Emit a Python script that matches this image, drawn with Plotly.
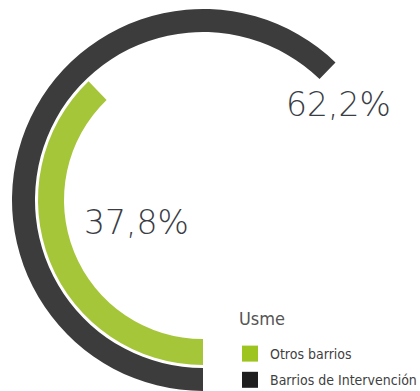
import plotly.graph_objects as go

# Share of each group of neighbourhoods (percent)
categories = ["Barrios de Intervención", "Otros barrios"]
shares = [62.2, 37.8]
ring_colors = ["#3c3c3c", "#a6c63a"]
legend_colors = ["#1e1e1e", "#9ec41f"]
legend_title = "Usme"

# Ring geometry in pixels: (outer radius, inner radius) per category
W, H = 420, 391
CX, CY = 203, 200
ring_radii = [(191, 168), (165, 139)]
# Label anchor positions (paper fractions)
label_pos = [(0.807, 0.734), (0.326, 0.430)]

NARROW = "Liberation Sans Narrow, DejaVu Sans Condensed, sans-serif"


def ring_domain(r):
    cy_up = H - CY
    return dict(x=[(CX - r) / W, (CX + r) / W],
                y=[max(0.0, (cy_up - r) / H), min(1.0, (cy_up + r) / H)])


def fmt(v):
    return f"{v:.1f}".replace(".", ",") + "%"


fig = go.Figure()

for i, name in enumerate(categories):
    outer, inner = ring_radii[i]
    other = 1 - i
    fig.add_trace(go.Pie(
        labels=[name, categories[other]],
        values=[shares[i], shares[other]],
        marker=dict(colors=[ring_colors[i], "rgba(0,0,0,0)"], line=dict(width=0)),
        hole=inner / outer,
        domain=ring_domain(outer),
        rotation=180,
        direction="clockwise",
        sort=False,
        textinfo="none",
        hoverinfo="skip",
        showlegend=False,
    ))

# Legend entries (one square swatch per category, green first)
for i in [1, 0]:
    fig.add_trace(go.Scatter(
        x=[None], y=[None], mode="markers", name=categories[i],
        legendgroup=categories[i],
        marker=dict(symbol="square", size=16, color=legend_colors[i]),
    ))

for i, v in enumerate(shares):
    fig.add_annotation(
        x=label_pos[i][0], y=label_pos[i][1], xref="paper", yref="paper",
        xanchor="center", yanchor="middle",
        text=fmt(v), showarrow=False,
        font=dict(family="DejaVu Sans", size=33, weight=300, color="#3a3d45"),
    )

# Legend heading
fig.add_annotation(
    x=237 / W, y=(H - 318) / H, xref="paper", yref="paper",
    xanchor="left", yanchor="middle", text=legend_title, showarrow=False,
    font=dict(family=NARROW, size=18, color="#555555"),
)

fig.update_layout(
    width=W, height=H,
    margin=dict(l=0, r=0, t=0, b=0, autoexpand=False),
    paper_bgcolor="white", plot_bgcolor="white",
    xaxis=dict(visible=False), yaxis=dict(visible=False),
    showlegend=True,
    legend=dict(
        x=230 / W, y=(H - 338) / H, xanchor="left", yanchor="top",
        bgcolor="rgba(0,0,0,0)", tracegroupgap=5,
        font=dict(family=NARROW, size=14, color="#3f3f3f"),
    ),
)

fig.write_html("out.html")
